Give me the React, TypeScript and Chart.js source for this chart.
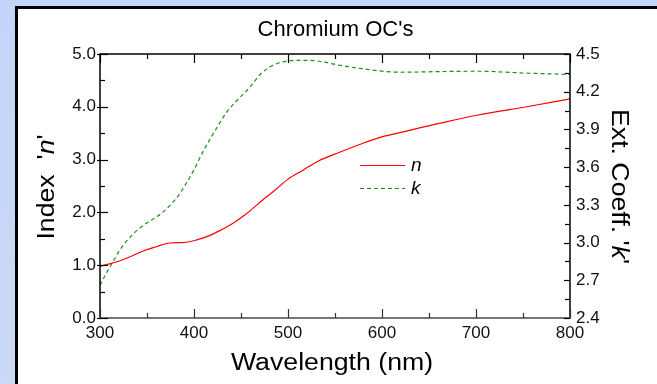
import React, { useEffect, useRef } from 'react';
import { Chart, registerables } from 'chart.js';

Chart.register(...registerables);

// ---- data ----
const nWavelengths = [300, 311, 322, 332, 346, 360, 374, 389, 403, 415, 428, 442, 456, 474, 486, 500, 516, 532, 555, 577, 598, 619, 640, 662, 701, 757, 800];
const nValues = [0.98, 1.03, 1.09, 1.16, 1.27, 1.35, 1.42, 1.43, 1.48, 1.55, 1.66, 1.8, 1.98, 2.25, 2.42, 2.63, 2.8, 2.97, 3.14, 3.29, 3.42, 3.51, 3.6, 3.69, 3.84, 4.01, 4.15];

const kWavelengths = [300, 307, 314, 321, 328, 343, 355, 365, 375, 383, 390, 400, 410, 424, 435, 447, 460, 472, 484, 496, 510, 522, 535, 555, 577, 598, 620, 660, 700, 757, 800];
const kValues = [2.66, 2.76, 2.85, 2.94, 3.01, 3.12, 3.18, 3.23, 3.3, 3.37, 3.45, 3.58, 3.73, 3.91, 4.04, 4.14, 4.24, 4.35, 4.41, 4.44, 4.45, 4.45, 4.44, 4.41, 4.385, 4.365, 4.355, 4.36, 4.363, 4.347, 4.337];

const chartTitle = "Chromium OC's";
const xTitle = 'Wavelength (nm)';
const leftTitleParts = [
  { text: "Index  '", italic: false },
  { text: 'n', italic: true },
  { text: "'", italic: false },
];
const rightTitleParts = [
  { text: "Ext. Coeff. '", italic: false },
  { text: 'k', italic: true },
  { text: "'", italic: false },
];
const seriesLabels = ['n', 'k'];

const FONT = "'Liberation Sans', Arial, Helvetica, sans-serif";

type Part = { text: string; italic: boolean };

function drawParts(ctx: CanvasRenderingContext2D, parts: Part[], x: number, y: number, rot: number, size: number, stretch: number) {
  ctx.save();
  ctx.translate(x, y);
  ctx.rotate(rot);
  ctx.scale(stretch, 1);
  ctx.fillStyle = '#000';
  ctx.textBaseline = 'alphabetic';
  ctx.textAlign = 'left';
  let total = 0;
  const widths = parts.map((p) => {
    ctx.font = `${p.italic ? 'italic ' : ''}${size}px ${FONT}`;
    const w = ctx.measureText(p.text).width;
    total += w;
    return w;
  });
  let cx = -total / 2;
  parts.forEach((p, i) => {
    ctx.font = `${p.italic ? 'italic ' : ''}${size}px ${FONT}`;
    ctx.fillText(p.text, cx, 0);
    cx += widths[i];
  });
  ctx.restore();
}

const decorPlugin = {
  id: 'decor',
  afterDatasetsDraw(chart: any) {
    const { ctx, chartArea } = chart;
    const { left, right, top, bottom } = chartArea;
    const xs = chart.scales.x;
    const ys = chart.scales.y;
    const ys1 = chart.scales.y1;
    ctx.save();
    // frame
    ctx.lineCap = 'butt';
    ctx.strokeStyle = '#000';
    ctx.lineWidth = 1.5;
    ctx.beginPath();
    ctx.moveTo(left, bottom);
    ctx.lineTo(left, top);
    ctx.lineTo(right, top);
    ctx.lineTo(right, bottom);
    ctx.stroke();
    ctx.strokeStyle = '#777';
    ctx.lineWidth = 2;
    ctx.beginPath();
    ctx.moveTo(left - 1, bottom);
    ctx.lineTo(right + 1, bottom);
    ctx.stroke();

    // x ticks (top and bottom, inward)
    ctx.lineWidth = 1.2;
    for (let v = 300; v <= 800; v += 50) {
      const px = Math.round(xs.getPixelForValue(v)) + 0.5;
      const major = v % 100 === 0;
      const len = major ? 9 : 5;
      ctx.strokeStyle = '#333';
      ctx.beginPath();
      ctx.moveTo(px, bottom);
      ctx.lineTo(px, bottom - len);
      ctx.stroke();
      ctx.strokeStyle = '#000';
      ctx.beginPath();
      ctx.moveTo(px, top);
      ctx.lineTo(px, top + len);
      ctx.stroke();
    }
    // left y ticks
    for (let i = 0; i <= 10; i++) {
      const v = i * 0.5;
      const py = Math.round(ys.getPixelForValue(v)) + 0.5;
      const major = i % 2 === 0;
      ctx.strokeStyle = '#000';
      ctx.beginPath();
      if (major) {
        ctx.moveTo(left - 3, py);
        ctx.lineTo(left + 8, py);
      } else {
        ctx.moveTo(left, py);
        ctx.lineTo(left + 5, py);
      }
      ctx.stroke();
    }
    // right y ticks
    for (let i = 0; i <= 14; i++) {
      const v = 2.4 + i * 0.15;
      const py = Math.round(ys1.getPixelForValue(v)) + 0.5;
      const major = i % 2 === 0;
      ctx.beginPath();
      ctx.moveTo(right, py);
      ctx.lineTo(right - (major ? 6 : 5), py);
      ctx.stroke();
    }

    // legend
    const ds = chart.data.datasets;
    const legendRows = [165, 188];
    ds.forEach((d: any, i: number) => {
      const y = legendRows[i];
      ctx.strokeStyle = d.borderColor;
      ctx.lineWidth = d.borderWidth;
      ctx.setLineDash(d.borderDash || []);
      ctx.beginPath();
      ctx.moveTo(360, y + 0.5);
      ctx.lineTo(405, y + 0.5);
      ctx.stroke();
      ctx.setLineDash([]);
      ctx.fillStyle = '#000';
      ctx.font = `italic 19px ${FONT}`;
      ctx.textBaseline = 'middle';
      ctx.textAlign = 'left';
      ctx.fillText(seriesLabels[i], 411, y + 1);
    });

    // titles
    ctx.fillStyle = '#000';
    ctx.font = `22px ${FONT}`;
    ctx.textAlign = 'center';
    ctx.textBaseline = 'alphabetic';
    ctx.fillText(chartTitle, 335.5, 36);

    drawParts(ctx, [{ text: xTitle, italic: false }], 332, 369.5, 0, 23, 1.16);
    drawParts(ctx, leftTitleParts, 53.5, 187, -Math.PI / 2, 23, 1.16);
    drawParts(ctx, rightTitleParts, 612, 186.5, Math.PI / 2, 23, 1.16);
    ctx.restore();
  },
};

export default function App() {
  const ref = useRef<HTMLCanvasElement | null>(null);
  useEffect(() => {
    if (!ref.current) return;
    const tickFont = { family: FONT, size: 17 };
    const chart = new Chart(ref.current, {
      type: 'line',
      data: {
        datasets: [
          {
            label: seriesLabels[0],
            data: nWavelengths.map((w, i) => ({ x: w, y: nValues[i] })),
            borderColor: '#ff0000',
            borderWidth: 1.2,
            pointRadius: 0,
            cubicInterpolationMode: 'monotone',
            yAxisID: 'y',
          },
          {
            label: seriesLabels[1],
            data: kWavelengths.map((w, i) => ({ x: w, y: kValues[i] })),
            borderColor: '#1f8f1f',
            borderWidth: 1.2,
            borderDash: [4, 3],
            pointRadius: 0,
            cubicInterpolationMode: 'monotone',
            yAxisID: 'y1',
          },
        ],
      },
      options: {
        responsive: false,
        animation: false,
        layout: { padding: { top: 54, left: 0, right: 0, bottom: 0 } },
        plugins: { legend: { display: false }, tooltip: { enabled: false }, title: { display: false } },
        scales: {
          x: {
            type: 'linear',
            position: 'bottom',
            min: 300,
            max: 800,
            grid: { display: false, drawTicks: false },
            border: { display: false },
            ticks: { stepSize: 100, font: tickFont, color: '#111', padding: 5, maxRotation: 0, autoSkip: false },
            afterFit: (s: any) => { s.height = 66; },
          },
          y: {
            type: 'linear',
            position: 'left',
            min: 0,
            max: 5,
            grid: { display: false, drawTicks: false },
            border: { display: false },
            ticks: { stepSize: 1, font: tickFont, color: '#111', padding: 4, callback: (v: any) => Number(v).toFixed(1) },
            afterFit: (s: any) => { s.width = 100; },
          },
          y1: {
            type: 'linear',
            position: 'right',
            min: 2.4,
            max: 4.5,
            grid: { display: false, drawTicks: false },
            border: { display: false },
            ticks: { stepSize: 0.3, font: tickFont, color: '#111', padding: 6, callback: (v: any) => Number(v).toFixed(1) },
            afterFit: (s: any) => { s.width = 87; },
          },
        },
      } as any,
      plugins: [decorPlugin],
    });
    return () => chart.destroy();
  }, []);

  return (
    <div style={{ position: 'fixed', left: 0, top: 0, width: 657, height: 384, overflow: 'hidden', background: 'linear-gradient(to bottom, #c2d4f8, #ccdaf6)' }}>
      <div style={{ position: 'absolute', left: 15, top: 6, width: 700, height: 500, background: '#fff', borderLeft: '3px solid #000', borderTop: '3px solid #000' }} />
      <canvas ref={ref} width={657} height={384} style={{ position: 'absolute', left: 0, top: 0, width: 657, height: 384 }} />
    </div>
  );
}
